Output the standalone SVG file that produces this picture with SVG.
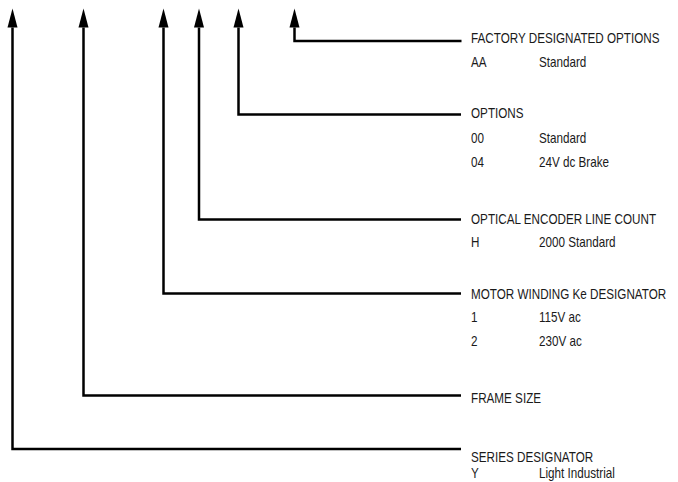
<svg xmlns="http://www.w3.org/2000/svg" width="678" height="482" viewBox="0 0 678 482">
<defs>
<style>
.c{fill:none;stroke:#000;stroke-width:2.5;marker-start:url(#ah)}
.t{font-family:"Liberation Sans",Arial,sans-serif;font-size:14px;fill:#1a1a1a}
</style>
<marker id="ah" markerUnits="userSpaceOnUse" markerWidth="20" markerHeight="12" viewBox="0 -6 20 12" refX="0" refY="0" orient="auto-start-reverse">
<path d="M0,-5 L19,0 L0,5 z" fill="#000"/>
</marker>
</defs>
<rect width="678" height="482" fill="#fff"/>
<g id="connectors">
<path class="c" d="M294.5,27.5 V41 H461.5"/>
<path class="c" d="M238.5,27.5 V114.5 H461"/>
<path class="c" d="M199,27.5 V219.5 H461"/>
<path class="c" d="M163.5,27.5 V293.5 H461"/>
<path class="c" d="M83.5,27.5 V395.5 H461"/>
<path class="c" d="M12.5,27.5 V449 H461"/>
</g>
<g transform="scale(0.835 1)">
<g id="factory">
<text class="t" x="564.1" y="43.5">FACTORY DESIGNATED OPTIONS</text>
<text class="t" x="564.1" y="67.5">AA</text>
<text class="t" x="645.5" y="67.5">Standard</text>
</g>
<g id="options">
<text class="t" x="564.1" y="118.5">OPTIONS</text>
<text class="t" x="564.1" y="143">00</text>
<text class="t" x="645.5" y="143">Standard</text>
<text class="t" x="564.1" y="167">04</text>
<text class="t" x="645.5" y="167">24V dc Brake</text>
</g>
<g id="encoder">
<text class="t" x="564.1" y="224">OPTICAL ENCODER LINE COUNT</text>
<text class="t" x="564.1" y="247.5">H</text>
<text class="t" x="645.5" y="247.5">2000 Standard</text>
</g>
<g id="winding">
<text class="t" x="564.1" y="299">MOTOR WINDING Ke DESIGNATOR</text>
<text class="t" x="564.1" y="322.5">1</text>
<text class="t" x="645.5" y="322.5">115V ac</text>
<text class="t" x="564.1" y="346.5">2</text>
<text class="t" x="645.5" y="346.5">230V ac</text>
</g>
<g id="frame">
<text class="t" x="564.1" y="403.5">FRAME SIZE</text>
</g>
<g id="series">
<text class="t" x="564.1" y="462">SERIES DESIGNATOR</text>
<text class="t" x="564.1" y="478">Y</text>
<text class="t" x="645.5" y="478">Light Industrial</text>
</g>
</g>
</svg>
